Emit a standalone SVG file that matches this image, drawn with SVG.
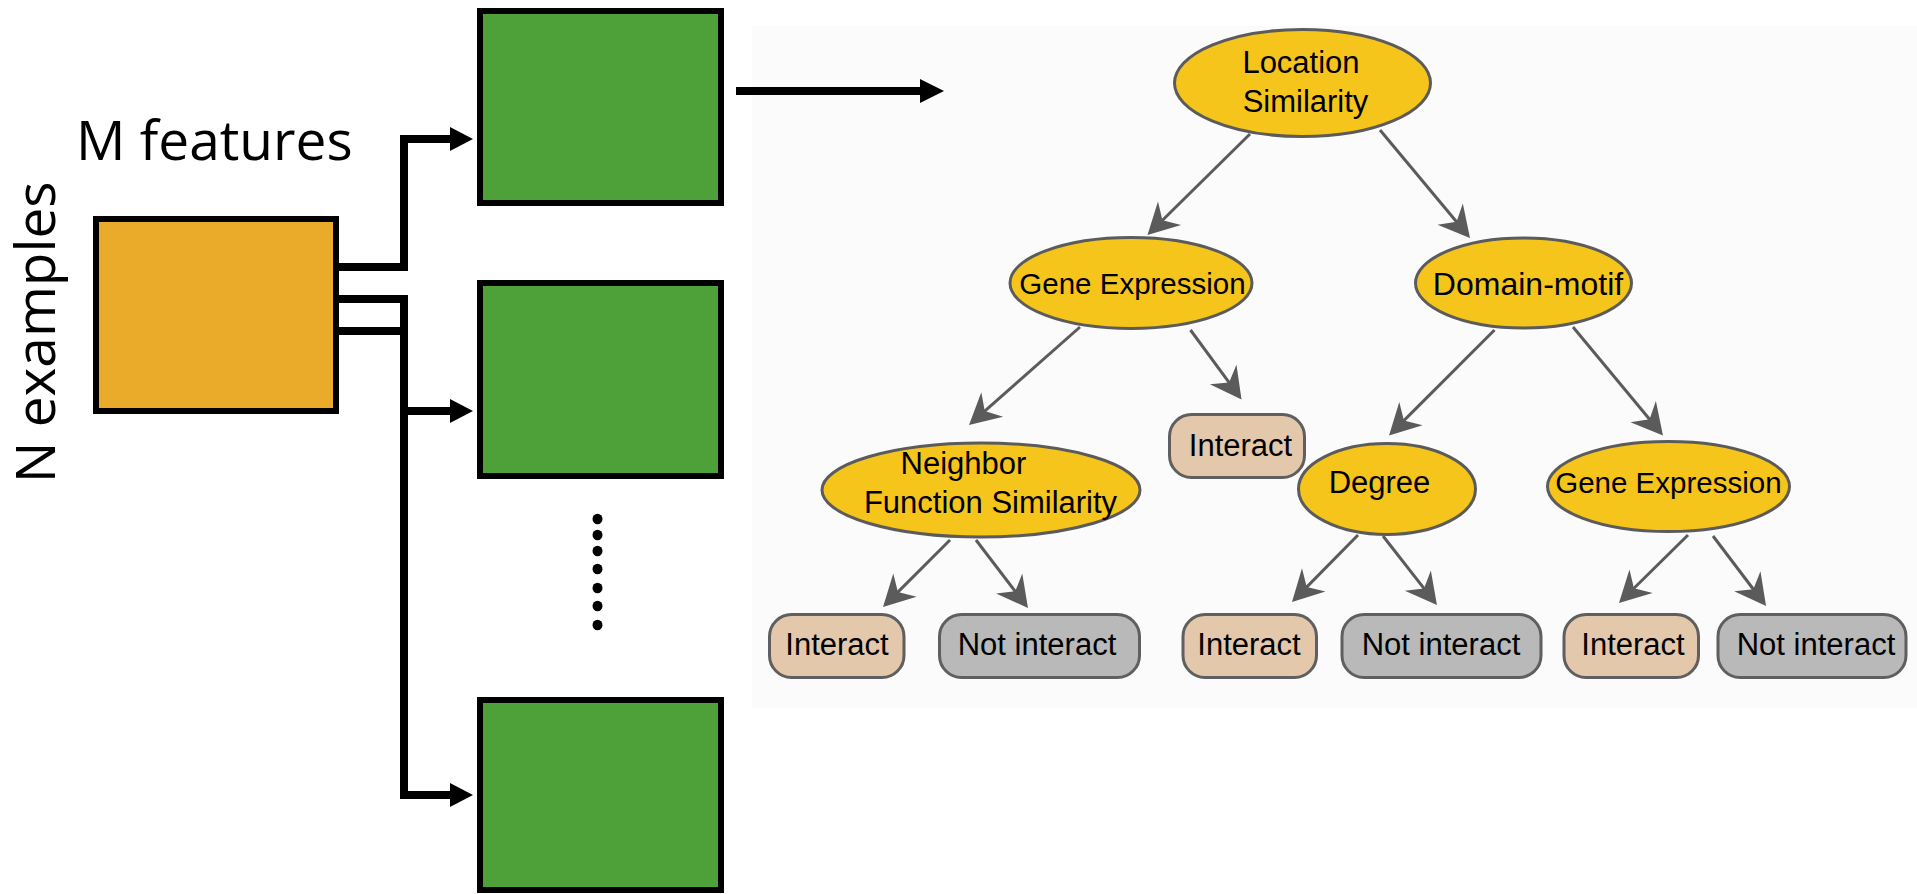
<svg xmlns="http://www.w3.org/2000/svg" width="1917" height="894" viewBox="0 0 1917 894">
<style>
.big{font-family:"Open Sans","Liberation Sans",sans-serif;font-size:55px;fill:#000}
.lbl{font-family:"Liberation Sans",Arial,sans-serif;font-size:31px;fill:#000;text-anchor:middle}
.green{fill:#4ea038;stroke:#000;stroke-width:6}
.orange{fill:#eaab2a;stroke:#000;stroke-width:6}
.blk{fill:none;stroke:#000;stroke-width:8}
.ell{fill:#f6c51b;stroke:#5b5b5b;stroke-width:3}
.yes{fill:#e3c8ac;stroke:#5f5f5f;stroke-width:3}
.no{fill:#b9b9b9;stroke:#5f5f5f;stroke-width:3}
.edge{fill:none;stroke:#5b5b5b;stroke-width:3;marker-end:url(#ah)}
</style>
<defs>
<marker id="ah" markerUnits="userSpaceOnUse" orient="auto" viewBox="-22 -17 33 34" markerWidth="33" markerHeight="34" refX="0" refY="0">
<path d="M10,0 L-21,-16.5 L-11,0 L-21,16.5 Z" fill="#5b5b5b"/>
</marker>
</defs>
<rect width="1917" height="894" fill="#fff"/>
<rect id="panel" x="752" y="26" width="1165" height="682" fill="#fbfbfb"/>

<g id="labels">
<text class="big" x="76" y="160">M features</text>
<text class="big" transform="translate(55,483) rotate(-90)">N examples</text>
</g>

<g id="data-matrix"><rect class="orange" x="96" y="219" width="240" height="192"/></g>
<g id="tree1"><rect class="green" x="480" y="11" width="241" height="192"/></g>
<g id="tree2"><rect class="green" x="480" y="283" width="241" height="193"/></g>
<g id="tree3"><rect class="green" x="480" y="700" width="241" height="190"/></g>
<g id="ellipsis-dots" fill="#000">
<ellipse cx="597.5" cy="519" rx="5" ry="5.3"/>
<ellipse cx="597.5" cy="535" rx="5" ry="5.3"/>
<ellipse cx="597.5" cy="551" rx="5" ry="5.3"/>
<ellipse cx="597.5" cy="569" rx="5" ry="5.3"/>
<ellipse cx="597.5" cy="588" rx="5" ry="5.3"/>
<ellipse cx="597.5" cy="606" rx="5" ry="5.3"/>
<ellipse cx="597.5" cy="625" rx="5" ry="5.3"/>
</g>

<g id="bootstrap-connectors">
<path class="blk" d="M339,267 H404 V139 H452"/>
<path class="blk" d="M339,299 H404 V795 H452"/>
<path class="blk" d="M339,331 H404"/>
<path class="blk" d="M404,411 H452"/>
<path class="blk" d="M736,91 H922"/>
<polygon points="450,127 473,139 450,151"/>
<polygon points="450,399 473,411 450,423"/>
<polygon points="450,783 473,795 450,807"/>
<polygon points="920,79 944,91 920,103"/>
</g>

<g id="tree-edges">
<path class="edge" d="M1250,134 L1154.6,228"/>
<path class="edge" d="M1380,130 L1463.6,230.3"/>
<path class="edge" d="M1080,327 L976.5,418.4"/>
<path class="edge" d="M1190.5,330 L1235.6,391.4"/>
<path class="edge" d="M1494.5,330 L1396.1,428.4"/>
<path class="edge" d="M1573,327 L1656.6,427.8"/>
<path class="edge" d="M950,540 L890.1,599.9"/>
<path class="edge" d="M976,540 L1021.9,600.1"/>
<path class="edge" d="M1358,535 L1299,594.9"/>
<path class="edge" d="M1383,536 L1430.8,597.1"/>
<path class="edge" d="M1688,535 L1626.1,596"/>
<path class="edge" d="M1713,536 L1760,598"/>
</g>

<g id="n-location">
<ellipse class="ell" cx="1302.5" cy="83" rx="128" ry="53.5"/>
<text class="lbl" x="1301" y="73">Location</text>
<text class="lbl" x="1305.5" y="112">Similarity</text>
</g>
<g id="n-gene-left">
<ellipse class="ell" cx="1131" cy="283" rx="121" ry="45.5"/>
<text class="lbl" x="1132.5" y="294" style="font-size:29.5px">Gene Expression</text>
</g>
<g id="n-domain">
<ellipse class="ell" cx="1523.5" cy="283" rx="108" ry="45"/>
<text class="lbl" x="1528" y="295" style="font-size:32px">Domain-motif</text>
</g>
<g id="n-neighbor">
<ellipse class="ell" cx="981" cy="490" rx="159" ry="47"/>
<text class="lbl" x="963.5" y="474">Neighbor</text>
<text class="lbl" x="990.5" y="513">Function Similarity</text>
</g>
<g id="n-interact-mid">
<rect class="yes" x="1169.5" y="414.5" width="135" height="63" rx="22"/>
<text class="lbl" x="1240.5" y="456">Interact</text>
</g>
<g id="n-degree">
<ellipse class="ell" cx="1387" cy="489" rx="88.5" ry="45.5"/>
<text class="lbl" x="1379.5" y="493">Degree</text>
</g>
<g id="n-gene-right">
<ellipse class="ell" cx="1668.5" cy="486.5" rx="121" ry="45"/>
<text class="lbl" x="1668.4" y="493" style="font-size:29.5px">Gene Expression</text>
</g>
<g id="n-interact-1">
<rect class="yes" x="769.5" y="614.5" width="134.5" height="63" rx="22"/>
<text class="lbl" x="837" y="655">Interact</text>
</g>
<g id="n-not-1">
<rect class="no" x="939.5" y="614.5" width="200" height="63" rx="22"/>
<text class="lbl" x="1037" y="655">Not interact</text>
</g>
<g id="n-interact-2">
<rect class="yes" x="1183" y="614.5" width="133.5" height="63" rx="22"/>
<text class="lbl" x="1249" y="655">Interact</text>
</g>
<g id="n-not-2">
<rect class="no" x="1342" y="614.5" width="199" height="63" rx="22"/>
<text class="lbl" x="1441" y="655">Not interact</text>
</g>
<g id="n-interact-3">
<rect class="yes" x="1564" y="614.5" width="134.5" height="63" rx="22"/>
<text class="lbl" x="1633" y="655">Interact</text>
</g>
<g id="n-not-3">
<rect class="no" x="1718" y="614.5" width="188" height="63" rx="22"/>
<text class="lbl" x="1816" y="655">Not interact</text>
</g>
</svg>
